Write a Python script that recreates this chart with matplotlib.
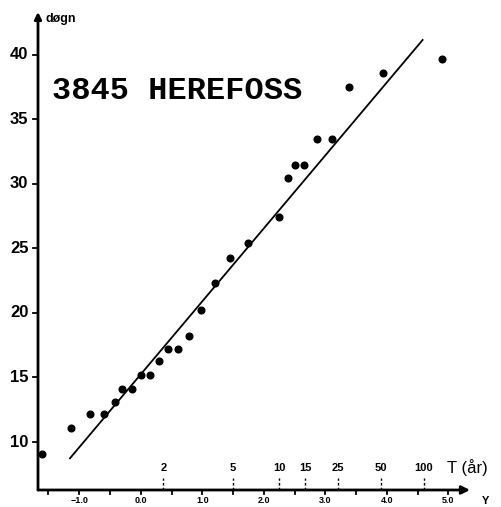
import numpy as np
import matplotlib

matplotlib.use("Agg")
import matplotlib.pyplot as plt

# Gumbel reduced variate Y and observed values (døgn)
obs_y = [-1.61, -1.13, -0.83, -0.60, -0.42, -0.30, -0.14, 0.00, 0.15, 0.29,
         0.44, 0.61, 0.78, 0.98, 1.21, 1.45, 1.75, 2.24, 2.385, 2.50,
         2.65, 2.87, 3.11, 3.38, 3.93, 4.89]
obs_val = [9.05, 11.1, 12.15, 12.15, 13.1, 14.1, 14.1, 15.2, 15.2, 16.25,
           17.2, 17.2, 18.2, 20.2, 22.3, 24.3, 25.4, 27.45, 30.5, 31.45,
           31.45, 33.45, 33.45, 37.5, 38.6, 39.7]

# fitted line end points
fit_y = [-1.15, 4.58]
fit_val = [8.74, 41.16]

y_ticks = [10, 15, 20, 25, 30, 35, 40]
x_ticks = [-1.0, 0.0, 1.0, 2.0, 3.0, 4.0, 5.0]
x_minor = [-1.5, -0.5, 0.5, 1.5, 2.5, 3.5, 4.5]
return_periods = [2, 5, 10, 15, 25, 50, 100]

W, H = 501, 507
fig = plt.figure(figsize=(W / 100, H / 100), dpi=100)
x0, x1, y0, y1 = 38, 470, 490, 12
ax = fig.add_axes([x0 / W, (H - y0) / H, (x1 - x0) / W, (y0 - y1) / H])
ax.set_xlim(-1.67, 5.35)
ax.set_ylim(6.28, 43.33)
for s in ax.spines.values():
    s.set_visible(False)
ax.set_xticks([])
ax.set_yticks([])

# axes with arrows
ax.annotate("", xy=(1, 0), xytext=(0, 0), xycoords="axes fraction",
            arrowprops=dict(arrowstyle="-|>", lw=2, color="black",
                            mutation_scale=12, shrinkA=0, shrinkB=0))
ax.annotate("", xy=(0, 1), xytext=(0, 0), xycoords="axes fraction",
            arrowprops=dict(arrowstyle="-|>", lw=2, color="black",
                            mutation_scale=10, shrinkA=0, shrinkB=0))

tr_y = ax.get_yaxis_transform()
tr_x = ax.get_xaxis_transform()
for v in y_ticks:
    ax.plot([-0.012, 0.0], [v, v], transform=tr_y, color="black", lw=1.3,
            clip_on=False)
    ax.text(-0.022, v, str(v), transform=tr_y, ha="right", va="center",
            fontsize=12, fontweight="bold", family="Liberation Sans")

for v in x_ticks + x_minor:
    ax.plot([v, v], [-0.008, 0.0], transform=tr_x, color="black", lw=1.3,
            clip_on=False)
for v in x_ticks:
    lab = f"{v:.1f}".replace("-", "\u2212")
    ax.text(v, -0.013, lab, transform=tr_x, ha="center", va="top",
            fontsize=6.5, fontweight="bold", family="Liberation Sans")

# return period scale
for T in return_periods:
    yv = -np.log(-np.log(1 - 1 / T))
    ax.plot([yv, yv], [0.0, 0.025], transform=tr_x, color="black", lw=1,
            ls=(0, (2, 1.5)), clip_on=False)
    ax.text(yv, 0.035, str(T), transform=tr_x, ha="center", va="bottom",
            fontsize=8, fontweight="bold", family="Liberation Sans")
ax.text(4.98, 0.03, "T (år)", transform=tr_x, ha="left", va="bottom",
        fontsize=12, family="Liberation Sans")
ax.text(5.6, -0.013, "Y", transform=tr_x, ha="center", va="top",
        fontsize=8, fontweight="bold", family="Liberation Sans")

ax.text(0.018, 0.985, "døgn", transform=ax.transAxes, ha="left",
        va="center", fontsize=9, fontweight="bold", family="Liberation Sans")
ax.text(-1.44, 37.2, "3845 HEREFOSS", ha="left", va="center", fontsize=23,
        fontweight="bold", family="Liberation Mono")

ax.plot(fit_y, fit_val, color="black", lw=1.3)
ax.plot(obs_y, obs_val, "o", color="black", ms=4.8, clip_on=False)

fig.savefig("out.png", dpi=100)
